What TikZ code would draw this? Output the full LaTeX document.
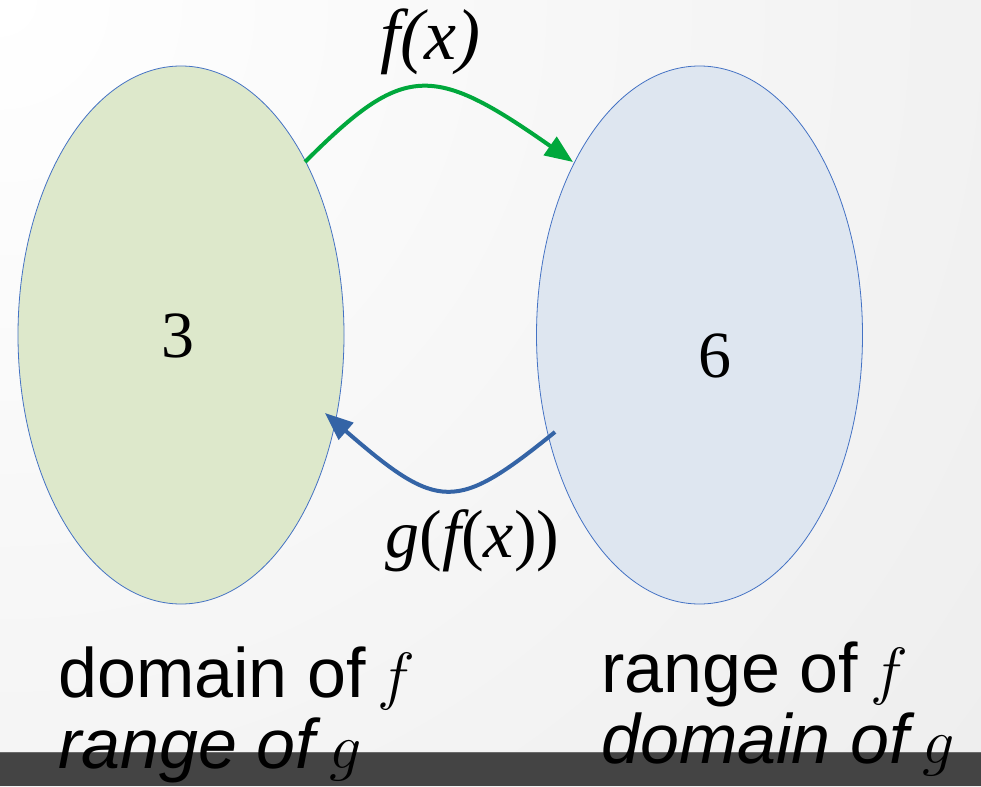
\RequirePackage{fix-cm}
\documentclass[tikz,border=0pt]{standalone}
\usepackage{fontspec}
\setmainfont{Liberation Serif}
\newfontfamily\sansfnt{Liberation Sans}
\usetikzlibrary{arrows.meta,shapes.geometric}
\definecolor{greenfill}{HTML}{DDE8CB}
\definecolor{bluefill}{HTML}{DEE6F0}
\definecolor{edgeblue}{HTML}{4472C4}
\definecolor{garrow}{HTML}{00A83C}
\definecolor{barrow}{HTML}{3464A6}
\definecolor{bandgray}{HTML}{444444}
\definecolor{bandedge}{HTML}{6A6A6A}
\newcommand{\mvar}[1]{{\fontsize{64}{70}\selectfont$#1$}}
\tikzset{
  setshape/.style={ellipse, draw=edgeblue, line width=0.8pt, minimum width=326pt, minimum height=538pt, inner sep=0pt},
  conn/.style={line width=4pt, -{Triangle[length=28pt,width=22pt]}},
  bignum/.style={inner sep=0pt, font=\fontsize{66}{70}\selectfont},
  maplabel/.style={inner sep=0pt, anchor=base, font=\fontsize{70}{80}\selectfont},
  setlabel/.style={inner sep=0pt, anchor=base west, font=\fontsize{70}{80}\selectfont}
}
\begin{document}
\begin{tikzpicture}[x=1pt,y=-1pt]
\useasboundingbox (0,0) rectangle (981,786);
\begin{scope}
\clip (0,0) rectangle (981,786);
\shade[inner color=white, outer color=black!14] (-2600,-2600) rectangle (2600,2600);
\end{scope}
\fill[bandgray] (0,752) rectangle (981,786);
\draw[bandedge, line width=1.5pt] (0,752.5) -- (981,752.5);

\node[setshape, fill=greenfill] (L) at (181,335) {};
\node[setshape, fill=bluefill] (R) at (699.5,335) {};

\node[bignum] (three) at (178,336) {3};
\node[bignum] (six) at (715,356) {6};

\coordinate (fstart) at (305,162);
\coordinate (fend) at (573,162);
\coordinate (gstart) at (555,432);
\coordinate (gend) at (325,413);

\draw[conn, garrow] (fstart) .. controls (404,63) and (432,63) .. (fend);
\draw[conn, barrow] (gstart) .. controls (456,512) and (439,512) .. (gend);

\node[maplabel, font=\fontsize{72}{80}\selectfont] (fx) at (430,60) {\itshape f(x)};
\node[maplabel, font=\fontsize{68}{78}\selectfont] (gfx) at (472.5,557) {{\itshape g}({\itshape f}({\itshape x}))};

\node[setlabel] (domf) at (58,697) {{\sansfnt domain of}\hspace{12pt}\mvar{f}};
\node[setlabel] (rang) at (58,768) {{\sansfnt\itshape range of}\hspace{14pt}\mvar{g}};
\node[setlabel] (ranf) at (601,692) {{\sansfnt range of}\hspace{12pt}\mvar{f}};
\node[setlabel] (domg) at (601,763) {{\sansfnt\itshape domain of}\hspace{14pt}\mvar{g}};
\end{tikzpicture}
\end{document}
